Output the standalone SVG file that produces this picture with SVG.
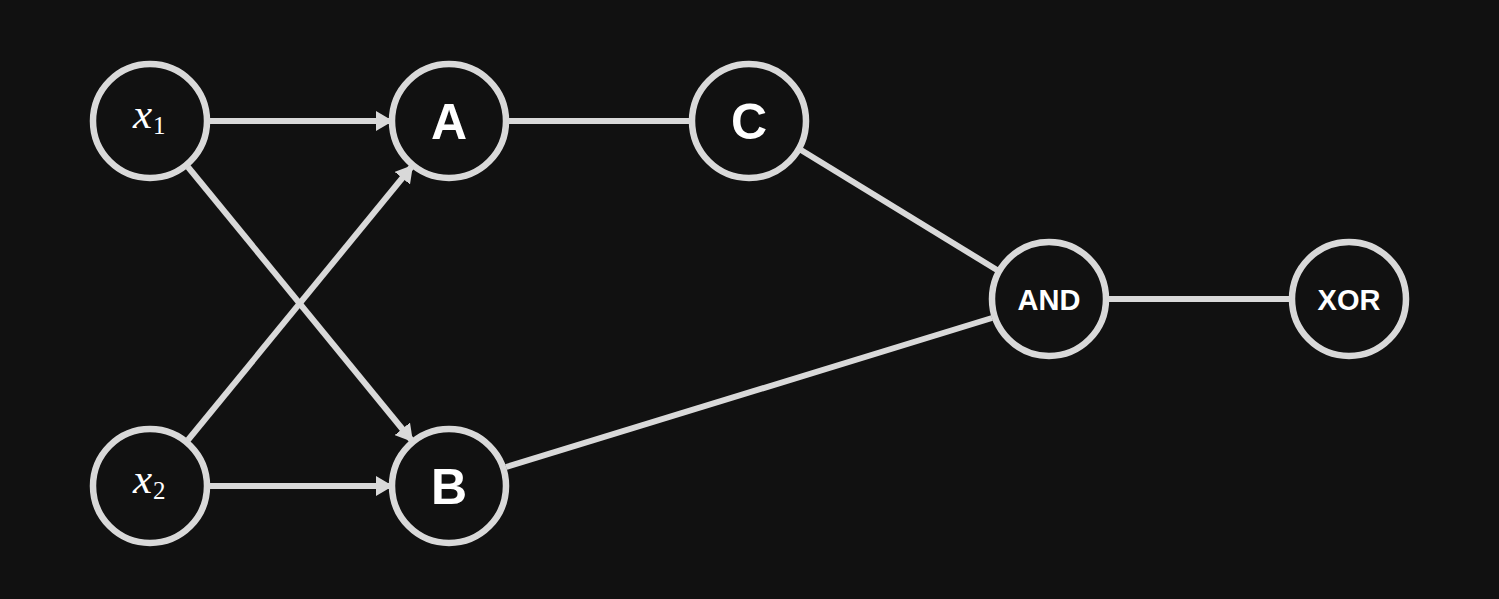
<svg xmlns="http://www.w3.org/2000/svg" width="1499" height="599" viewBox="0 0 1499 599">
  <style>
    .node circle { fill: #111111; stroke: #d9d9d9; stroke-width: 6.5; }
    .edge { stroke: #d9d9d9; stroke-width: 6; fill: none; }
    .lbl { fill: #ffffff; font-family: "Liberation Sans", Arial, sans-serif; font-weight: bold; text-anchor: middle; }
    .big { font-size: 50px; }
    .small { font-size: 29px; }
    .math { fill: #ffffff; font-family: "Liberation Serif", "Times New Roman", serif; }
    .var { font-size: 43px; font-style: italic; }
    .sub { font-size: 25px; }
  </style>
  <defs>
    <marker id="arrow" markerUnits="userSpaceOnUse" markerWidth="18" markerHeight="20" refX="17" refY="10" orient="auto">
      <path d="M0,0 L17,10 L0,20 Z" fill="#d9d9d9"/>
    </marker>
  </defs>
  <rect width="1499" height="599" fill="#111111"/>

  <g id="connectors">
    <line class="edge" x1="209" y1="121" x2="393" y2="121" marker-end="url(#arrow)"/>
    <line class="edge" x1="209" y1="486" x2="393" y2="486" marker-end="url(#arrow)"/>
    <line class="edge" x1="188" y1="167" x2="413" y2="442" marker-end="url(#arrow)"/>
    <line class="edge" x1="188" y1="440" x2="413" y2="165" marker-end="url(#arrow)"/>
    <line class="edge" x1="509" y1="121" x2="689" y2="121"/>
    <line class="edge" x1="801" y1="150" x2="997" y2="270"/>
    <line class="edge" x1="506" y1="467" x2="992" y2="318"/>
    <line class="edge" x1="1109" y1="299" x2="1289" y2="299"/>
  </g>

  <g id="node-x1" class="node">
    <circle cx="150" cy="121" r="57"/>
    <text class="math var" x="133" y="128">x</text>
    <text class="math sub" x="153" y="134">1</text>
  </g>
  <g id="node-x2" class="node">
    <circle cx="150" cy="486" r="57"/>
    <text class="math var" x="133" y="493">x</text>
    <text class="math sub" x="153" y="499">2</text>
  </g>
  <g id="node-A" class="node">
    <circle cx="449" cy="121" r="57"/>
    <text class="lbl big" x="449" y="139">A</text>
  </g>
  <g id="node-B" class="node">
    <circle cx="449" cy="486" r="57"/>
    <text class="lbl big" x="449" y="504">B</text>
  </g>
  <g id="node-C" class="node">
    <circle cx="749" cy="121" r="57"/>
    <text class="lbl big" x="749" y="139">C</text>
  </g>
  <g id="node-AND" class="node">
    <circle cx="1049" cy="299" r="57"/>
    <text class="lbl small" x="1049" y="310">AND</text>
  </g>
  <g id="node-XOR" class="node">
    <circle cx="1349" cy="299" r="57"/>
    <text class="lbl small" x="1349" y="310">XOR</text>
  </g>
</svg>
